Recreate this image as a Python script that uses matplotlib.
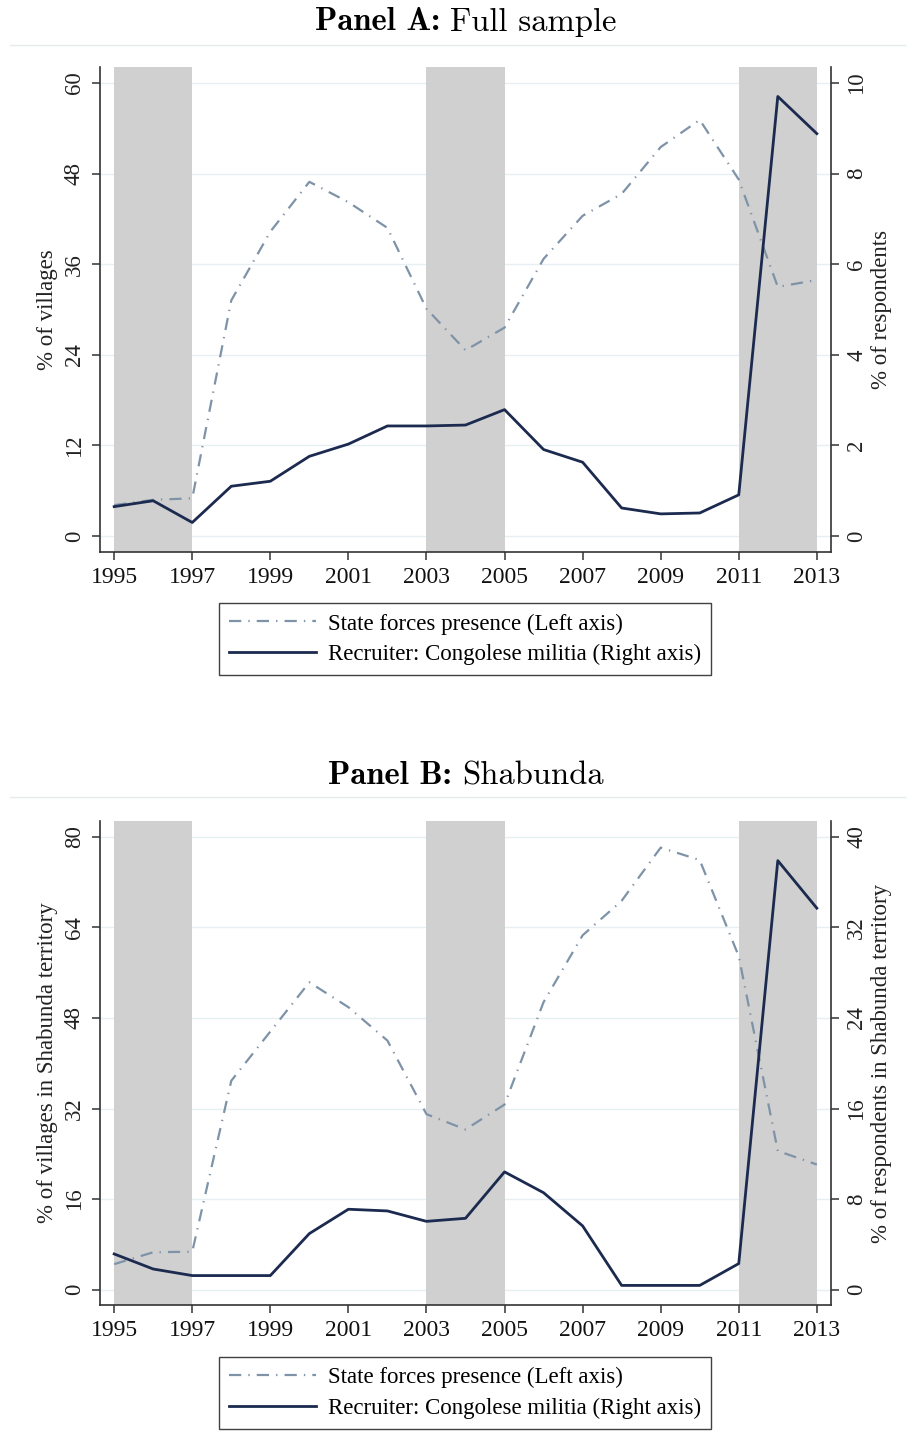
import matplotlib
matplotlib.use("Agg")
import matplotlib.pyplot as plt
from matplotlib.lines import Line2D

plt.rcParams['font.family'] = ['Liberation Serif', 'DejaVu Serif']

years = list(range(1995, 2014))

# Panel A: full sample
state_a = [4.1, 4.8, 5.0, 31.2, 40.3, 46.9, 44.2, 40.8, 30.1, 24.6,
           27.6, 36.7, 42.4, 45.3, 51.5, 55.1, 47.2, 33.0, 33.9]
recruit_a = [0.65, 0.78, 0.30, 1.10, 1.21, 1.76, 2.03, 2.43, 2.43, 2.45,
             2.79, 1.91, 1.63, 0.62, 0.49, 0.51, 0.91, 9.70, 8.88]

# Panel B: Shabunda territory
state_b = [4.5, 6.6, 6.7, 36.9, 45.6, 54.3, 49.9, 44.0, 31.0, 28.3,
           32.7, 50.8, 62.6, 68.7, 78.1, 75.9, 58.9, 24.5, 22.1]
recruit_b = [3.15, 1.82, 1.24, 1.24, 1.24, 4.95, 7.1, 6.95, 6.03, 6.3,
             10.4, 8.56, 5.63, 0.37, 0.37, 0.37, 2.3, 37.9, 33.7]

shaded_periods = [(1995, 1997), (2003, 2005), (2011, 2013)]
xticks = list(range(1995, 2014, 2))

left_ticks_a = [0, 12, 24, 36, 48, 60]
right_ticks_a = [0, 2, 4, 6, 8, 10]
left_ticks_b = [0, 16, 32, 48, 64, 80]
right_ticks_b = [0, 8, 16, 24, 32, 40]

legend_labels = ["State forces presence (Left axis)",
                 "Recruiter: Congolese militia (Right axis)"]

C_STATE = "#7e93a8"
C_RECRUIT = "#1b2a4e"
C_BAND = "#d0d0d0"
C_GRID = "#e6eff1"
C_AX = "#333333"
STATE_DASH = (5.5, 3.2, 0.6, 3.2)

W, H = 907, 1456
fig = plt.figure(figsize=(W / 100, H / 100), dpi=100)
fig.patch.set_facecolor("white")


def fx(px):
    return px / W


def fy(py):
    return 1 - py / H


def panel_title(bold_part, rest, x_center, y_px, size):
    """Bold lead-in followed by roman text, centred as one line."""
    t1 = fig.text(0, fy(y_px), bold_part, family="cmb10", fontsize=size,
                  ha="left", va="center")
    t2 = fig.text(0, fy(y_px), rest, family="cmr10", fontsize=size,
                  ha="left", va="center")
    r = fig.canvas.get_renderer()
    w1 = t1.get_window_extent(r).width
    w2 = t2.get_window_extent(r).width
    gap = 0.3 * size * 100 / 72
    total = w1 + gap + w2
    x0 = x_center - total / 2
    t1.set_x(fx(x0))
    t2.set_x(fx(x0 + w1 + gap))


def make_panel(top_px, bot_px, title, title_y, rule_y, legend_y,
               state, recruit, lticks, rticks, llabel, rlabel):
    ax_w = 831 - 100
    ax = fig.add_axes([fx(100), fy(bot_px), fx(831) - fx(100), fy(top_px) - fy(bot_px)])
    lmax = lticks[-1]
    rmax = rticks[-1]
    pad_lo = 0.034 * lmax
    pad_hi = 0.035 * lmax
    ax.set_ylim(-pad_lo, lmax + pad_hi)
    ax.set_xlim(1995 - 0.363, 2013 + 0.363)

    for t in lticks:
        ax.axhline(t, color=C_GRID, lw=1.0, zorder=0)
    for a, b in shaded_periods:
        ax.axvspan(a, b, color=C_BAND, lw=0, zorder=1)

    ax.plot(years, state, color=C_STATE, lw=1.6, dashes=STATE_DASH, zorder=3)

    ax2 = ax.twinx()
    ax2.set_ylim(-pad_lo * rmax / lmax, (lmax + pad_hi) * rmax / lmax)
    ax2.plot(years, recruit, color=C_RECRUIT, lw=2.0, zorder=4)

    ax.set_xticks(xticks)
    ax.set_xticklabels([str(x) for x in xticks], fontsize=17, color="#111111")
    ax.set_yticks(lticks)
    ax.set_yticklabels([str(t) for t in lticks], fontsize=16.5, color="#222222",
                       rotation=90, va="center")
    ax2.set_yticks(rticks)
    ax2.set_yticklabels([str(t) for t in rticks], fontsize=16.5, color="#222222",
                        rotation=90, va="center")

    for a in (ax, ax2):
        a.spines["top"].set_visible(False)
        for s in ("left", "right", "bottom"):
            a.spines[s].set_color(C_AX)
            a.spines[s].set_linewidth(1.2)
        a.tick_params(direction="out", length=6, width=1.1, color=C_AX, pad=5)
    ax.spines["right"].set_visible(False)
    ax2.spines["left"].set_visible(False)
    ax2.spines["bottom"].set_visible(False)

    ax.set_ylabel(llabel, fontsize=16.5, color="#222222")
    ax.yaxis.set_label_coords((58 - 100) / ax_w, 0.5)
    ax2.set_ylabel(rlabel, fontsize=16.5, color="#222222", rotation=90)
    ax2.yaxis.set_label_coords((871 - 100) / ax_w, 0.5)

    panel_title(title[0], title[1], 466, title_y, 23.5)
    fig.add_artist(Line2D([fx(10), fx(905)], [fy(rule_y), fy(rule_y)],
                          color="#e4ecee", lw=1.0))

    handles = [Line2D([], [], color=C_STATE, lw=1.6, dashes=STATE_DASH),
               Line2D([], [], color=C_RECRUIT, lw=2.0)]
    leg = fig.legend(handles, legend_labels, loc="upper center",
                     bbox_to_anchor=(fx(465), fy(legend_y)),
                     fontsize=16.5, frameon=True, fancybox=False,
                     handlelength=3.8, handletextpad=0.5, borderpad=0.45,
                     labelspacing=0.4, borderaxespad=0)
    fr = leg.get_frame()
    fr.set_edgecolor("#111111")
    fr.set_linewidth(1.0)
    return ax, ax2


make_panel(67, 551.5, ("Panel A:", "Full sample"), 22, 45, 603,
           state_a, recruit_a, left_ticks_a, right_ticks_a,
           "% of villages", "% of respondents")
make_panel(821, 1305, ("Panel B:", "Shabunda"), 776, 797, 1357,
           state_b, recruit_b, left_ticks_b, right_ticks_b,
           "% of villages in Shabunda territory",
           "% of respondents in Shabunda territory")

fig.savefig("out.png", dpi=100, facecolor="white")
